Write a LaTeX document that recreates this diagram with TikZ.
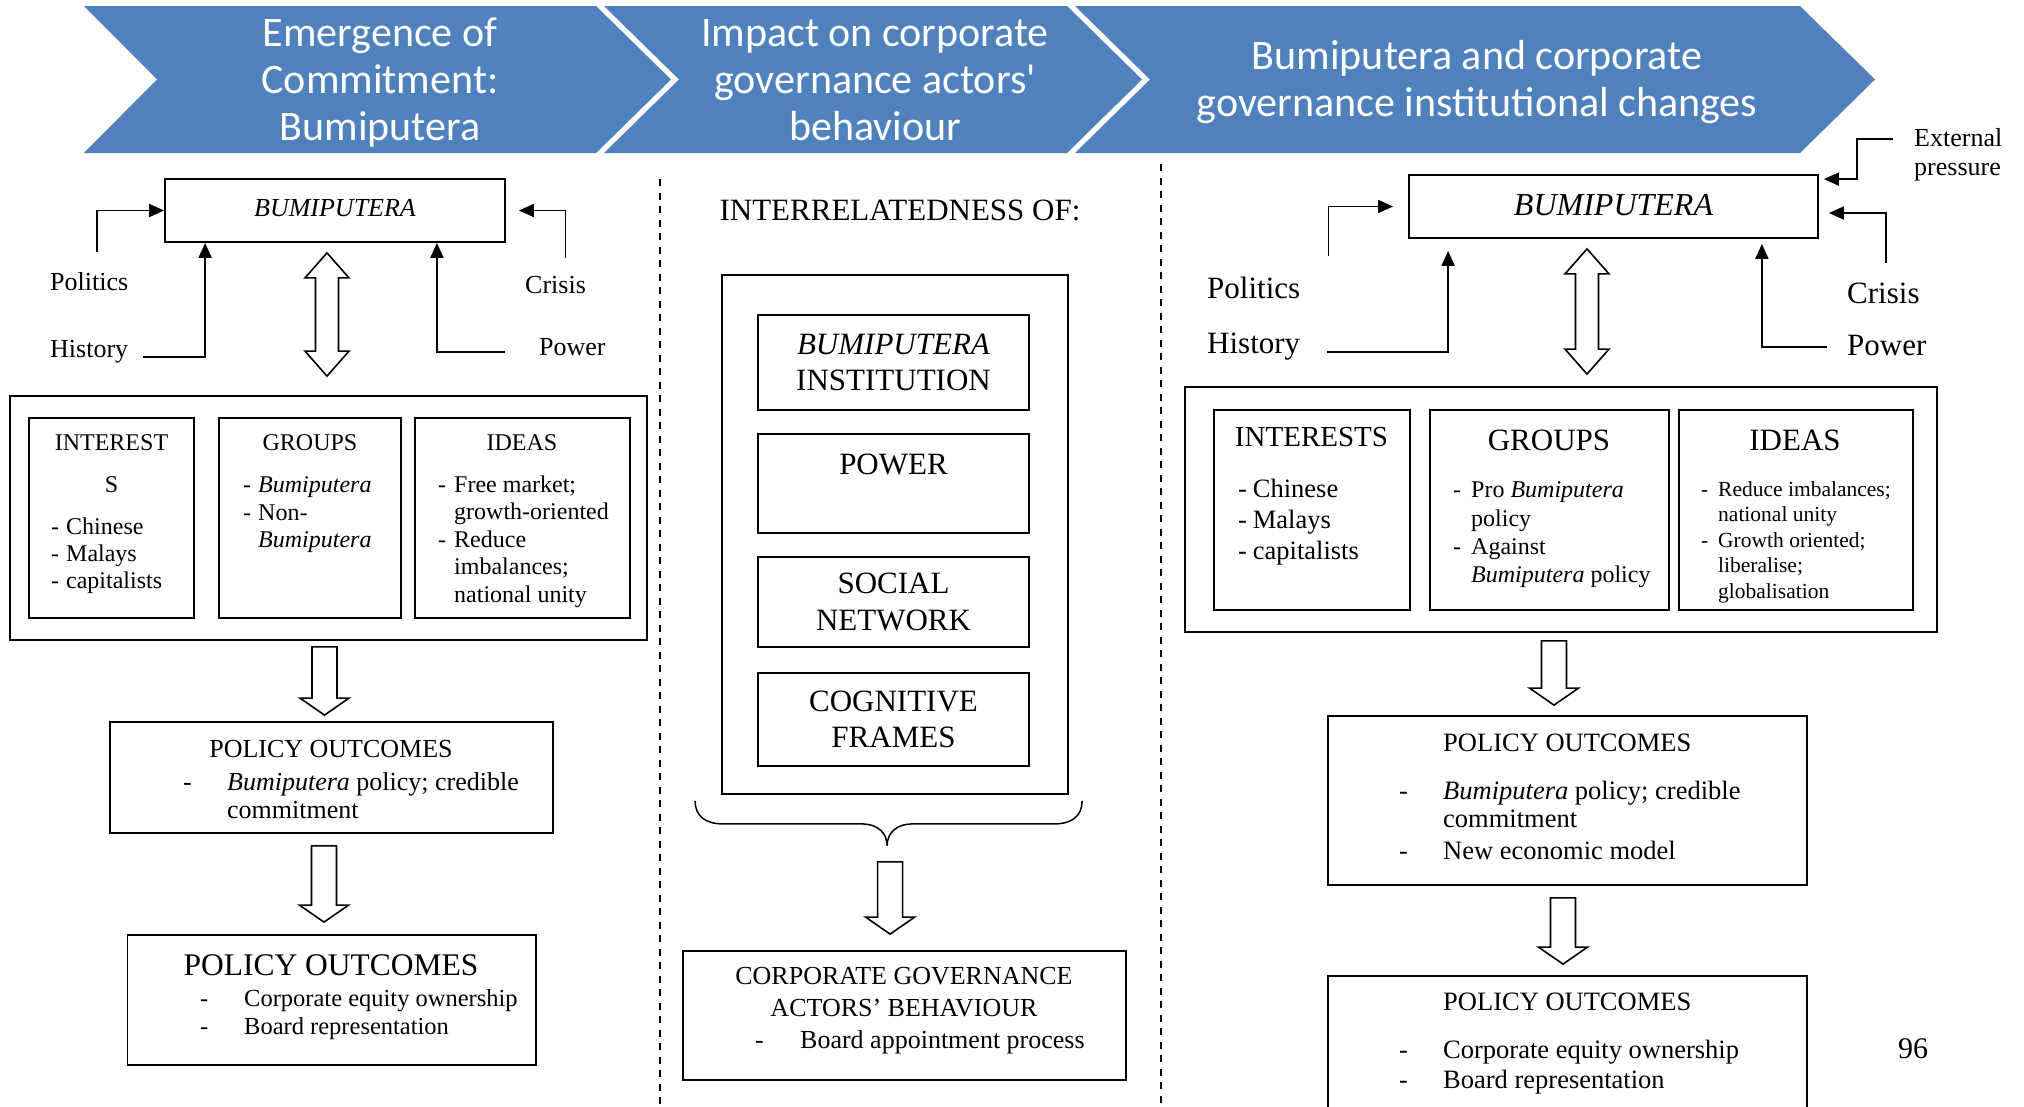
\documentclass[tikz,border=0pt]{standalone}
\usepackage{fontspec}
\setmainfont{Liberation Serif}
\newfontfamily\chevfont{Carlito}[Ligatures=TeXOff]
\usetikzlibrary{arrows.meta,calc}
\definecolor{chevblue}{HTML}{4F81BD}
\newcommand{\itm}[2][15pt]{\makebox[#1][l]{-}#2}
% hollow block arrows between two points (x taken from the first point)
\newcommand{\sblk}[2]{\draw[blk] let \p1=(#1), \p2=(#2) in (\x1-12.5pt,\y1) -- (\x1+12.5pt,\y1) -- (\x1+12.5pt,\y2+17pt) -- (\x1+24.5pt,\y2+17pt) -- (\x1,\y2) -- (\x1-24.5pt,\y2+17pt) -- (\x1-12.5pt,\y2+17pt) -- cycle;}
\newcommand{\dblk}[2]{\draw[blk] let \p1=(#1), \p2=(#2) in (\x1,\y1) -- (\x1+22pt,\y1-25pt) -- (\x1+11.5pt,\y1-25pt) -- (\x1+11.5pt,\y2+25pt) -- (\x1+22pt,\y2+25pt) -- (\x1,\y2) -- (\x1-22pt,\y2+25pt) -- (\x1-11.5pt,\y2+25pt) -- (\x1-11.5pt,\y1-25pt) -- (\x1-22pt,\y1-25pt) -- cycle;}

\begin{document}
\begin{tikzpicture}[x=1pt,y=-1pt,box/.style 2 args={draw,line width=1.8pt,inner sep=0pt,minimum width=#1,minimum height=#2},fs/.style 2 args={font=\fontsize{#1}{#2}\selectfont},lbl/.style={inner sep=0pt,anchor=base west},ttl/.style={inner sep=0pt,anchor=base},txt/.style={inner sep=0pt,align=left,anchor=north west},chev/.style={inner sep=0pt,align=center,anchor=north,text=white,font=\chevfont\fontsize{42}{47}\selectfont},conn/.style={line width=1.8pt,-{Triangle[length=15pt,width=13pt]}},blk/.style={draw,fill=white,line width=1.6pt,line join=miter},divider/.style={line width=2pt,dash pattern=on 7pt off 6.5pt}]
\useasboundingbox (0,0) rectangle (2024,1106);
\clip (0,0) rectangle (2024,1106);

% header
\fill[chevblue] (84,6) -- (596,6) -- (671,79.5) -- (596,153) -- (84,153) -- (157,79.5) -- cycle;
\fill[chevblue] (604,6) -- (1067,6) -- (1142,79.5) -- (1067,153) -- (604,153) -- (679,79.5) -- cycle;
\fill[chevblue] (1075,6) -- (1800,6) -- (1875,79.5) -- (1800,153) -- (1075,153) -- (1150,79.5) -- cycle;
\node[chev] (chv1) at (380,17.5) {Emergence of\\Commitment:\\Bumiputera};
\node[chev] (chv2) at (875,19.5) {Impact on corporate\\governance actors'\\behaviour};
\node[chev] (chv3) at (1477,40.5) {Bumiputera and corporate\\governance institutional changes};

\draw[divider] (659.5,179) -- (659.5,1106);
\draw[divider] (1161,164) -- (1161,1106);

% left column
\node[box={340pt}{63pt},fs={26}{30},text depth=6pt] (bL) at (335,210.5) {\itshape BUMIPUTERA};
\node[lbl,fs={26}{30}] (polL) at (50,290) {Politics};
\node[lbl,fs={26}{30}] (hisL) at (50,357) {History};
\node[lbl,fs={26}{30}] (criL) at (525,293) {Crisis};
\node[lbl,fs={26}{30}] (powL) at (539,355) {Power};
\draw[conn] ([xshift=8pt,yshift=20pt]polL.north) |- (bL.west);
\draw[conn] ([xshift=15pt]hisL.base east) -| ([xshift=41pt]bL.south west);
\draw[conn] ([xshift=10pt,yshift=18pt]criL.north) |- ([xshift=13pt]bL.east);
\draw[conn] ([xshift=-34pt,yshift=3pt]powL.base west) -| ([xshift=-69pt]bL.south east);

\node[box={637pt}{244pt}] (oL) at (328.5,518) {};
\node[box={165pt}{200pt}] (intL) at (111.5,518) {};
\node[box={182pt}{200pt}] (grpL) at (310,518) {};
\node[box={215pt}{200pt}] (ideL) at (522.5,518) {};
\dblk{$(bL.south)+(-8,10)$}{$(oL.north)+(-1.5,-19)$}

\node[inner sep=0pt,align=center,anchor=north,fs={24}{27.5}] (intLt) at (111.5,434) {INTEREST\\[14.5pt]S};
\node[txt,fs={24}{27}] (intLi) at (51,517.6) {\itm{Chinese}\\\itm{Malays}\\\itm{capitalists}};
\node[ttl,fs={24}{27.5}] (grpLt) at (310,450) {GROUPS};
\node[txt,fs={24}{27.5}] (grpLi) at (243,476.7) {\itm{\textit{Bumiputera}}\\\itm{Non-}\\\hspace*{15pt}\textit{Bumiputera}};
\node[ttl,fs={24}{27.5}] (ideLt) at (522,450) {IDEAS};
\node[txt,fs={24}{27.5}] (ideLi) at (438,475.6) {\itm[16pt]{Free market;}\\\hspace*{16pt}growth-oriented\\\itm[16pt]{Reduce}\\\hspace*{16pt}imbalances;\\\hspace*{16pt}national unity};

\node[box={443pt}{111pt}] (poL1) at (331.5,777.5) {};
\node[ttl,fs={26}{28}] (poL1t) at (331,757) {POLICY OUTCOMES};
\node[txt,fs={26}{28}] (poL1i) at (183,772.2) {\itm[44pt]{\textit{Bumiputera} policy; credible}\\\hspace*{44pt}commitment};
\node[box={408.5pt}{130pt}] (poL2) at (331.75,1000) {};
\node[ttl,fs={31.5}{35}] (poL2t) at (331,975) {POLICY OUTCOMES};
\node[txt,fs={24.5}{28}] (poL2i) at (200,989.3) {\itm[44pt]{Corporate equity ownership}\\\itm[44pt]{Board representation}};
\sblk{$(oL.south)+(-4,6)$}{$(poL1.north)+(-7,-6)$}
\sblk{$(poL1.south)+(-7.5,12)$}{$(poL2.north)+(0,-12)$}

% middle column
\node[ttl,fs={31}{36.5}] (intrM) at (900,220) {INTERRELATEDNESS OF:};
\node[box={346pt}{519pt}] (oM) at (895,534.5) {};
\node[box={271pt}{95pt},align=center,fs={31}{36.5}] (bM) at (893.5,362.5) {\textit{BUMIPUTERA}\\INSTITUTION};
\node[box={271pt}{99pt},fs={31}{36.5},text depth=39.5pt] (powM) at (893.5,483.5) {POWER};
\node[box={271pt}{90pt},align=center,fs={31}{36.5}] (socM) at (893.5,602) {SOCIAL\\NETWORK};
\node[box={271pt}{93pt},align=center,fs={31}{36.5}] (cogM) at (893.5,719.5) {COGNITIVE\\FRAMES};
\coordinate (brL) at ($(oM.south west)+(-26,6)$);
\draw[line width=1.5pt] (brL) .. controls +(0,15) and +(-18,0) .. ++(28,23) -- ++(138,0) .. controls +(18,0) and +(0,-12) .. ++(26,22) coordinate (brT) .. controls +(0,-12) and +(-18,0) .. ++(26,-22) -- ++(141,0) .. controls +(18,0) and +(0,15) .. ++(28,-23);
\node[box={443pt}{129pt}] (cgM) at (904.5,1015.5) {};
\node[inner sep=0pt,align=center,anchor=north,fs={26}{32.5}] (cgMt) at (904,967) {CORPORATE GOVERNANCE\\ACTORS’ BEHAVIOUR};
\node[lbl,fs={26}{31}] (cgMi) at (755,1048) {\itm[45pt]{Board appointment process}};
\sblk{$(brT)+(3,16)$}{$(cgM.north)+(-13.5,-16)$}

% right column
\node[box={409pt}{63pt},fs={32}{36},text depth=4pt] (bR) at (1613.5,206.5) {\itshape BUMIPUTERA};
\node[lbl,fs={31}{35}] (polR) at (1207,298) {Politics};
\node[lbl,fs={31}{35}] (hisR) at (1207,353.5) {History};
\node[lbl,fs={31}{35}] (criR) at (1847,303) {Crisis};
\node[lbl,fs={31}{35}] (powR) at (1847,355) {Power};
\node[txt,fs={26}{29}] (extR) at (1914,128.2) {External\\pressure};
\draw[conn] ([xshift=28pt,yshift=20pt]polR.north east) |- ([xshift=-15pt]bR.west);
\draw[conn] ([xshift=27pt,yshift=1.5pt]hisR.base east) -| ([xshift=40pt,yshift=-12pt]bR.south west);
\draw[conn] ([xshift=3pt,yshift=19.5pt]criR.north) |- ([xshift=10pt,yshift=-6.5pt]bR.east);
\draw[conn] ([xshift=-20pt,yshift=8pt]powR.base west) -| ([xshift=-57pt,yshift=-5pt]bR.south east);
\draw[conn] ([xshift=-21pt,yshift=-11pt]extR.north west) -- ++(-36,0) |- ([xshift=5pt,yshift=-5pt]bR.north east);

\node[box={752pt}{245pt}] (oR) at (1561,509.5) {};
\node[box={196pt}{200pt}] (intR) at (1312,510) {};
\node[box={239pt}{200pt}] (grpR) at (1549.5,510) {};
\node[box={234pt}{200pt}] (ideR) at (1796,510) {};
\dblk{$(bR.south)+(-26.5,10)$}{$(oR.north)+(26,-12)$}

\node[ttl,fs={29}{33}] (intRt) at (1311.5,446.7) {INTERESTS};
\node[txt,fs={26.5}{31}] (intRi) at (1238,478.6) {\itm[14.7pt]{Chinese}\\\itm[14.7pt]{Malays}\\\itm[14.7pt]{capitalists}};
\node[ttl,fs={31}{35}] (grpRt) at (1549,450) {GROUPS};
\node[txt,fs={24}{28.3}] (grpRi) at (1453,481.7) {\itm[18pt]{Pro \textit{Bumiputera}}\\\hspace*{18pt}policy\\\itm[18pt]{Against}\\\hspace*{18pt}\textit{Bumiputera} policy};
\node[ttl,fs={31}{35}] (ideRt) at (1795,450) {IDEAS};
\node[txt,fs={21.5}{25.5}] (ideRi) at (1701,481.1) {\itm[17pt]{Reduce imbalances;}\\\hspace*{17pt}national unity\\\itm[17pt]{Growth oriented;}\\\hspace*{17pt}liberalise;\\\hspace*{17pt}globalisation};

\node[box={479pt}{169pt}] (poR1) at (1567.5,800.5) {};
\node[lbl,fs={26.5}{28}] (poR1t) at (1443,751.7) {POLICY OUTCOMES};
\node[txt,fs={26.5}{28}] (poR1i) at (1399,781) {\itm[44pt]{\textit{Bumiputera} policy; credible}\\\hspace*{44pt}commitment\\[4pt]\itm[44pt]{New economic model}};
\node[box={479pt}{150pt}] (poR2) at (1567.5,1051) {};
\node[lbl,fs={26.5}{28}] (poR2t) at (1443,1010) {POLICY OUTCOMES};
\node[txt,fs={26.5}{30}] (poR2i) at (1399,1039.5) {\itm[44pt]{Corporate equity ownership}\\\itm[44pt]{Board representation}};
\sblk{$(oR.south)+(-7,8)$}{$(poR1.north)+(-13.5,-10)$}
\sblk{$(poR1.south)+(-4.5,12)$}{$(poR2.north)+(0,-11)$}

\node[ttl,fs={30}{34}] (pg) at (1913,1058) {96};
\end{tikzpicture}
\end{document}
